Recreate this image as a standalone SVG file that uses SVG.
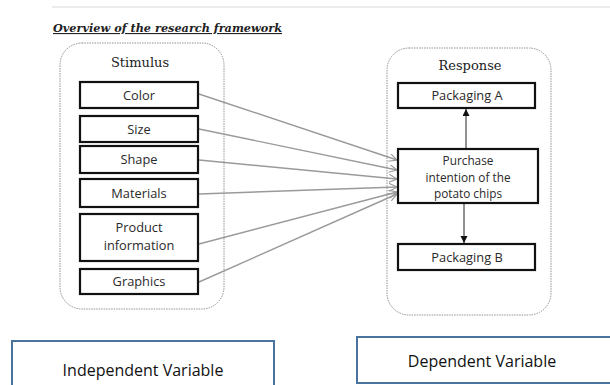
<svg xmlns="http://www.w3.org/2000/svg" width="610" height="385" viewBox="0 0 610 385">
<defs>
<style>
.cont{fill:#fff;stroke:#777;stroke-width:0.8;stroke-dasharray:1.5 1}
.box{fill:#fff;stroke:#111;stroke-width:2.2}
.lbl{font-family:"Open Sans","DejaVu Sans",sans-serif;font-size:12.8px;fill:#2a2a2a;text-anchor:middle}
.sm{font-size:11.8px}
.ttl{font-family:"DejaVu Serif","Liberation Serif",serif;font-size:13px;fill:#222;text-anchor:middle}
.conn{stroke:#9a9a9a;stroke-width:1.4;fill:none;marker-end:url(#open)}
.conn2{stroke:#222;stroke-width:1;fill:none;marker-end:url(#solid)}
.var{fill:#fff;stroke:#4a74a0;stroke-width:2}
.vt{font-family:"Open Sans","DejaVu Sans",sans-serif;font-size:16px;fill:#111;text-anchor:middle}
</style>
<marker id="open" markerWidth="10" markerHeight="10" refX="8" refY="4" orient="auto" markerUnits="userSpaceOnUse">
<path d="M0,0 L8,4 L0,8" fill="none" stroke="#9a9a9a" stroke-width="1.2"/>
</marker>
<marker id="solid" markerWidth="10" markerHeight="10" refX="7" refY="3.5" orient="auto" markerUnits="userSpaceOnUse">
<path d="M0,0 L7,3.5 L0,7 Z" fill="#111"/>
</marker>
</defs>
<rect width="610" height="385" fill="#fff"/>
<line x1="52" y1="7" x2="610" y2="7" stroke="#e6e6e6" stroke-width="1.5"/>
<text x="53" y="32" textLength="229" lengthAdjust="spacingAndGlyphs" font-family="'DejaVu Serif','Liberation Serif',serif" font-size="11" font-weight="bold" font-style="italic" fill="#222" text-decoration="underline">Overview of the research framework</text>

<g id="stimulus">
<rect class="cont" x="60" y="43" width="164" height="266" rx="22"/>
<text class="ttl" x="140" y="67">Stimulus</text>
</g>
<g id="response">
<rect class="cont" x="387" y="48" width="164" height="267" rx="22"/>
<text class="ttl" x="470" y="70">Response</text>
</g>

<g id="connectors">
<line class="conn" x1="199" y1="94" x2="397" y2="160"/>
<line class="conn" x1="199" y1="129" x2="397" y2="170"/>
<line class="conn" x1="199" y1="160" x2="397" y2="179"/>
<line class="conn" x1="199" y1="194" x2="397" y2="187"/>
<line class="conn" x1="199" y1="244" x2="397" y2="192"/>
<line class="conn" x1="199" y1="282" x2="397" y2="194"/>
<line class="conn2" x1="466" y1="149" x2="466" y2="109"/>
<line class="conn2" x1="464" y1="203" x2="464" y2="243"/>
</g>

<g id="color"><rect class="box" x="80" y="82" width="118" height="26"/><text class="lbl" x="139" y="100">Color</text></g>
<g id="size"><rect class="box" x="80" y="116" width="118" height="26"/><text class="lbl" x="139" y="134">Size</text></g>
<g id="shape"><rect class="box" x="80" y="146" width="118" height="27"/><text class="lbl" x="139" y="164">Shape</text></g>
<g id="materials"><rect class="box" x="80" y="179" width="118" height="28"/><text class="lbl" x="139" y="198">Materials</text></g>
<g id="product"><rect class="box" x="80" y="214" width="118" height="47"/><text class="lbl" x="139" y="232">Product</text><text class="lbl" x="139" y="250">information</text></g>
<g id="graphics"><rect class="box" x="80" y="269" width="118" height="25"/><text class="lbl" x="139" y="286">Graphics</text></g>

<g id="packagingA"><rect class="box" x="398" y="83" width="137" height="25"/><text class="lbl" x="467" y="100">Packaging A</text></g>
<g id="purchase"><rect class="box" x="398" y="149" width="140" height="54"/><text class="lbl sm" x="468" y="165">Purchase</text><text class="lbl sm" x="468" y="181.5">intention of the</text><text class="lbl sm" x="468" y="198">potato chips</text></g>
<g id="packagingB"><rect class="box" x="398" y="244" width="137" height="26"/><text class="lbl" x="467" y="262">Packaging B</text></g>

<g id="independent"><rect class="var" x="12" y="341" width="262" height="50"/><text class="vt" x="143" y="376">Independent Variable</text></g>
<g id="dependent"><rect class="var" x="357" y="337" width="260" height="46"/><text class="vt" x="482" y="367">Dependent Variable</text></g>
</svg>
